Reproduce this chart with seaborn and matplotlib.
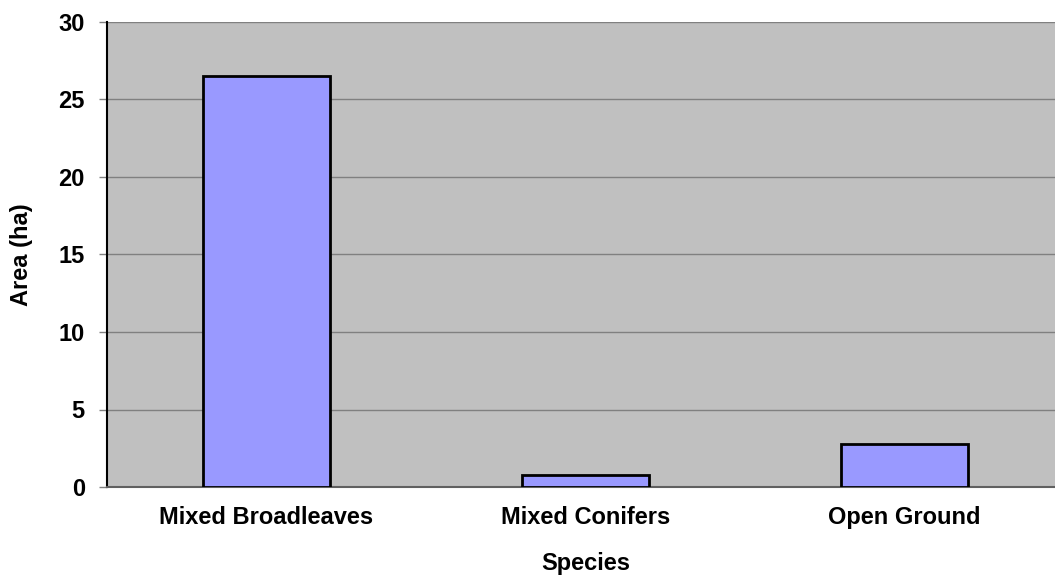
import matplotlib
matplotlib.use('Agg')
import matplotlib.pyplot as plt
import seaborn as sns
import pandas as pd

species = ['Mixed Broadleaves', 'Mixed Conifers', 'Open Ground']
area = [26.5, 0.77, 2.8]
y_ticks = [0, 5, 10, 15, 20, 25, 30]

df = pd.DataFrame({'Species': species, 'Area': area})

sns.set_style('white')
plt.rcParams['font.family'] = ['Liberation Sans', 'DejaVu Sans']
plt.rcParams['text.color'] = 'black'
plt.rcParams['axes.labelcolor'] = 'black'
plt.rcParams['xtick.labelcolor'] = 'black'
plt.rcParams['ytick.labelcolor'] = 'black'

fig = plt.figure(figsize=(10.55, 5.85), dpi=100)
# plot area runs a little past the right edge of the picture
ax = fig.add_axes([0.1014, 0.1675, 0.9071, 0.795])
ax.set_facecolor('#C0C0C0')

sns.barplot(data=df, x='Species', y='Area', color='#9999FF', edgecolor='black',
            linewidth=2, width=0.40, saturation=1, ax=ax, zorder=3)

ax.set_ylim(0, 30)
ax.set_xlim(-0.5, 2.5)
ax.set_yticks(y_ticks)
ax.yaxis.grid(True, color='#808080', linewidth=1, zorder=0)
ax.set_axisbelow(True)

# category ticks sit between the bars, like the old spreadsheet style
ax.set_xticks([-0.5, 0.5, 1.5, 2.5], minor=True)
ax.tick_params(axis='x', which='major', length=0, pad=14)
ax.tick_params(axis='x', which='minor', length=6, color='#808080', width=1)
ax.tick_params(axis='y', length=6, color='#808080', width=1, pad=10, left=True)

for lab in ax.get_xticklabels() + ax.get_yticklabels():
    lab.set_fontsize(17)
    lab.set_fontweight('bold')
    lab.set_color('black')

ax.set_xlabel('Species', fontsize=17, fontweight='bold', labelpad=16)
ax.set_ylabel('Area (ha)', fontsize=17, fontweight='bold', labelpad=18)

for s in ['top', 'right']:
    ax.spines[s].set_visible(False)
ax.spines['left'].set_color('black')
ax.spines['left'].set_linewidth(1.5)
ax.spines['bottom'].set_color('#606060')
ax.spines['bottom'].set_linewidth(1.5)

plt.savefig('out.png', dpi=100)
